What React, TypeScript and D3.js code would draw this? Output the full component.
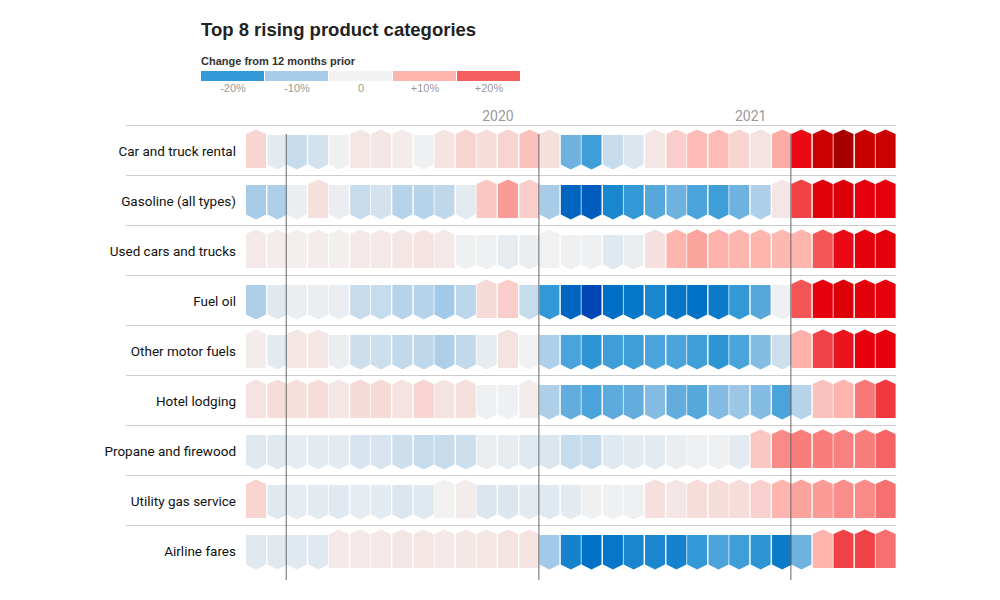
import React from "react";
import * as d3 from "d3";

const categories = [
  "Car and truck rental",
  "Gasoline (all types)",
  "Used cars and trucks",
  "Fuel oil",
  "Other motor fuels",
  "Hotel lodging",
  "Propane and firewood",
  "Utility gas service",
  "Airline fares",
];

// Months: Jan 2019 .. Jul 2021 (31 columns)
const months = d3.range(31).map((i) => new Date(2019, i, 1));

const carRental = [5, -2, -6, -4, -0.5, 2, 2, 1, -0.5, 2.5, 5, 3.5, 5, 8, 3, -15, -19, -6, -3, 2, 6, 9, 9, 5, 2.5, 11, 29, 43, 60, 45, 43];
const gasoline = [-10, -9, -1, 3, -1, -6, -4, -8, -8, -7, -2, 7, 13, 6, -10, -33, -35, -25, -20, -17, -15, -18, -19, -15, -9, 2, 23, 34, 36, 31, 31];
const usedCars = [1.5, 1, 0.5, 1, 0.5, 1.5, 1.5, 2, 2.5, 1.5, -0.5, -0.5, -1.5, -1, 0.2, -0.5, -0.5, -2.5, -1, 3, 10, 12, 10.5, 10, 10, 9.5, 10, 21, 29, 32, 32];
const fuelOil = [-9, -2.5, -1, -1, -1, -6, -6, -8, -8, -10.5, -7.5, 4, 6, -6, -20, -33, -40, -31, -29, -25, -29, -30, -28, -20, -17, -0.5, 21, 31, 36, 33, 31];
const otherFuels = [1, -2, 2, 2, -1, -5, -5, -6.5, -7, -9, -6.5, -1.5, 2.5, -0.3, -9, -18, -21, -19, -19, -18, -18, -19, -21, -18, -13, -5, 10.5, 23, 28, 30, 30];
const hotel = [2.5, 3.5, 3, 3.5, 2, 4, 4, 2.5, 5, 2.5, 3, -0.5, -0.5, 1, -9, -16, -18, -16.5, -16, -13, -16, -17, -13, -11, -13, -18, -8, 8, 10, 17, 24];
const propane = [-2.5, -2.5, -1.5, -2, -2, -3.5, -3.5, -5, -6, -6, -5, -1, -1.5, -2.5, -3, -6, -6, -2.5, -2, -2, -1, -0.7, -0.5, -2, 7, 15, 16.5, 16.5, 16, 16.5, 19.5];
const utilityGas = [5, -2.5, -1.5, -2, -2.5, -1.5, -2, -3, -2.5, 0.3, 1, -3, -3, -2, -2.5, -2, -0.5, -0.5, -0.5, 3, 2, 3.5, 3.5, 3.5, 5.5, 10, 12, 13, 14.5, 15, 18];
const airline = [-2.5, -2.5, -2.5, -2.5, 1.5, 1.5, 1.5, 2, 2, 1.5, 2, 2, 2.5, 2.5, -10.5, -26, -30, -29, -25, -25, -26, -20, -18, -19, -21, -28, -15, 10, 23, 23, 18];

const series = [carRental, gasoline, usedCars, fuelOil, otherFuels, hotel, propane, utilityGas, airline];

const legendValues = [-20, -10, 0, 10, 20];
const legendLabels = ["-20%", "-10%", "0", "+10%", "+20%"];
const yearTicks = [new Date(2020, 0, 1), new Date(2021, 0, 1)];
const markerMonths = [new Date(2019, 2, 1), new Date(2020, 2, 1), new Date(2021, 2, 1)];

const colorStops = [-40, -30, -20, -10, 0, 10, 20, 30, 45, 60];
const colorRange = ["#0046b4", "#0072c6", "#3399d6", "#a8cbe8", "#f2f2f2", "#fdb5ae", "#f55f60", "#e8000e", "#c80000", "#a80000"];

export default function App() {
  const width = 1000;
  const height = 600;
  const left = 246;
  const pitch = 21;
  const cellW = 20;
  const rowTop = 125;
  const rowH = 50;

  const x = d3
    .scaleTime()
    .domain([months[0], new Date(2021, 7, 1)])
    .range([left, left + pitch * 31]);
  const y = d3
    .scaleBand<string>()
    .domain(categories)
    .range([rowTop, rowTop + rowH * categories.length]);
  const color = d3
    .scaleLinear<string>()
    .domain(colorStops)
    .range(colorRange)
    .interpolate(d3.interpolateRgb)
    .clamp(true);

  const cellPath = (x0: number, yc: number, v: number) => {
    const x1 = x0 + cellW;
    const xm = x0 + cellW / 2;
    if (v >= 0) {
      return `M${x0},${yc + 18}L${x0},${yc - 16}L${xm},${yc - 20.5}L${x1},${yc - 16}L${x1},${yc + 18}Z`;
    }
    return `M${x0},${yc - 15}L${x1},${yc - 15}L${x1},${yc + 14.5}L${xm},${yc + 19.5}L${x0},${yc + 14.5}Z`;
  };

  const legendX = d3.scaleBand<number>().domain(legendValues).range([201, 521]).paddingInner(0);

  return (
    <svg
      width={width}
      height={height}
      style={{ position: "absolute", left: 0, top: 0, background: "#fff" }}
      fontFamily="Roboto, Arial, sans-serif"
    >
      <text x={201} y={36} fontFamily="'Liberation Sans', Arial, sans-serif" fontWeight={700} fontSize={18.5} fill="#222">
        Top 8 rising product categories
      </text>
      <text x={201} y={65} fontFamily="'Liberation Sans', Arial, sans-serif" fontWeight={700} fontSize={11} fill="#333">
        Change from 12 months prior
      </text>
      {legendValues.map((v, i) => (
        <g key={v}>
          <rect x={legendX(v)!} y={71} width={legendX.bandwidth() - 1} height={10} fill={color(v)} />
          <text
            x={legendX(v)! + legendX.bandwidth() / 2}
            y={92}
            textAnchor="middle"
            fontSize={11}
            fill="#999"
            fontFamily="'Liberation Sans', Arial, sans-serif"
          >
            {legendLabels[i]}
          </text>
        </g>
      ))}

      {yearTicks.map((d) => (
        <text key={d.getFullYear()} x={x(d)} y={121} textAnchor="middle" fontSize={14} fill="#999">
          {d.getFullYear()}
        </text>
      ))}

      {categories.map((c) => (
        <line key={c} x1={126} x2={896} y1={y(c)! + 0.5} y2={y(c)! + 0.5} stroke="#ccc" strokeWidth={1} />
      ))}

      {categories.map((c, r) => {
        const yc = y(c)! + rowH / 2;
        return (
          <g key={c}>
            <text x={236} y={yc + 6} textAnchor="end" fontSize={13.5} fill="#111">
              {c}
            </text>
            {series[r].map((v, i) => (
              <path key={i} d={cellPath(x(months[i]), yc, v)} fill={color(v)} />
            ))}
          </g>
        );
      })}

      {markerMonths.map((d, i) => (
        <line
          key={i}
          x1={x(d) - 0.5}
          x2={x(d) - 0.5}
          y1={134}
          y2={580}
          stroke="#666"
          strokeWidth={1}
        />
      ))}
    </svg>
  );
}
